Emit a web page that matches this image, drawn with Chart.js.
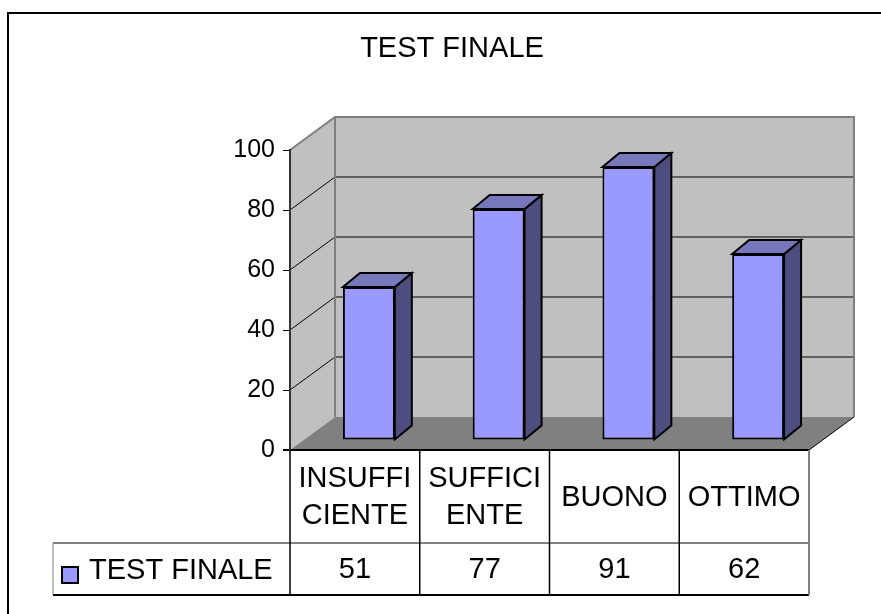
<!DOCTYPE html>
<html lang="it">
<head>
<meta charset="UTF-8">
<title>TEST FINALE</title>
<script src="https://cdn.jsdelivr.net/npm/chart.js"></script>
<style>
  html, body { margin: 0; padding: 0; background: #fff; }
  canvas { display: block; }
</style>
</head>
<body>
<canvas id="chart" width="881" height="614"></canvas>
<script>
// chart data
const categories = ['INSUFFICIENTE', 'SUFFICIENTE', 'BUONO', 'OTTIMO'];
const categoryLines = [['INSUFFI', 'CIENTE'], ['SUFFICI', 'ENTE'], ['BUONO'], ['OTTIMO']];
const seriesName = 'TEST FINALE';
const seriesValues = [51, 77, 91, 62];
const yTicks = [0, 20, 40, 60, 80, 100];

const FONT = "'Liberation Sans', Arial, sans-serif";

// 3D look
const WALL_DX = 45, WALL_DY = 33;   // depth of walls and floor
const BAR_DX = 14, BAR_DY = 10;     // columns stand a bit behind the front edge
const COL_DX = 17, COL_DY = 14;     // depth of a single column

function poly(ctx, pts, fill, stroke, lw) {
    ctx.beginPath();
    ctx.moveTo(pts[0][0], pts[0][1]);
    for (let i = 1; i < pts.length; i++) ctx.lineTo(pts[i][0], pts[i][1]);
    ctx.closePath();
    if (fill) { ctx.fillStyle = fill; ctx.fill(); }
    if (stroke) { ctx.strokeStyle = stroke; ctx.lineWidth = lw || 1; ctx.stroke(); }
}

function line(ctx, pts, color, lw) {
    ctx.beginPath();
    ctx.moveTo(pts[0][0], pts[0][1]);
    for (let i = 1; i < pts.length; i++) ctx.lineTo(pts[i][0], pts[i][1]);
    ctx.strokeStyle = color;
    ctx.lineWidth = lw;
    ctx.stroke();
}

// walls, floor and gridlines behind the columns
const box3d = {
    id: 'box3d',
    beforeDraw(chart) {
        const { ctx, chartArea: a, scales: { y } } = chart;
        const L = a.left, R = a.right, T = a.top, B = a.bottom;
        ctx.save();
        ctx.fillStyle = '#fff';
        ctx.fillRect(0, 0, chart.width, chart.height);

        // outer frame (runs off the picture on the right and bottom)
        line(ctx, [[8, chart.height + 5], [8, 13], [chart.width + 5, 13]], '#000', 2);

        poly(ctx, [[L, T], [L + WALL_DX, T - WALL_DY], [L + WALL_DX, B - WALL_DY], [L, B]], '#C0C0C0');
        poly(ctx, [[L + WALL_DX, T - WALL_DY], [R + WALL_DX, T - WALL_DY], [R + WALL_DX, B - WALL_DY], [L + WALL_DX, B - WALL_DY]], '#C0C0C0');
        poly(ctx, [[L, B], [R, B], [R + WALL_DX, B - WALL_DY], [L + WALL_DX, B - WALL_DY]], '#808080');

        for (const v of yTicks) {
            if (v === 0 || v === 100) continue;
            const py = y.getPixelForValue(v);
            line(ctx, [[L, py], [L + WALL_DX, py - WALL_DY], [R + WALL_DX, py - WALL_DY]], '#000', 1);
        }

        // wall edges
        line(ctx, [[L, T], [L + WALL_DX, T - WALL_DY], [R + WALL_DX, T - WALL_DY], [R + WALL_DX, B - WALL_DY]], '#808080', 2);
        line(ctx, [[L + WALL_DX, T - WALL_DY], [L + WALL_DX, B - WALL_DY]], '#808080', 2);
        line(ctx, [[R, B], [R + WALL_DX, B - WALL_DY]], '#000', 1);
        line(ctx, [[L - 7, B], [R, B]], '#000', 2);
        ctx.restore();
    },
    beforeDatasetsDraw(chart) {
        chart.ctx.save();
        chart.ctx.translate(BAR_DX, -BAR_DY);
    },
    afterDatasetsDraw(chart) {
        const ctx = chart.ctx;
        chart.getDatasetMeta(0).data.forEach(el => {
            const { x, y, base, width } = el.getProps(['x', 'y', 'base', 'width'], true);
            const l = x - width / 2, r = x + width / 2;
            poly(ctx, [[r, y], [r + COL_DX, y - COL_DY], [r + COL_DX, base - COL_DY], [r, base]], '#4D4D80', '#000', 2);
            poly(ctx, [[l, y], [l + COL_DX, y - COL_DY], [r + COL_DX, y - COL_DY], [r, y]], '#7777BB', '#000', 2);
        });
        ctx.restore();
    }
};

// data table under the plot
const dataTable = {
    id: 'dataTable',
    afterDraw(chart) {
        const { ctx, chartArea: a, scales: { x } } = chart;
        const cw = (a.right - a.left) / categories.length;
        const top = a.bottom, mid = top + 93, bot = mid + 52;
        const legendLeft = 53;
        ctx.save();

        line(ctx, [[legendLeft, mid], [a.right, mid]], '#808080', 2);
        line(ctx, [[legendLeft, mid], [legendLeft, bot]], '#808080', 1);
        line(ctx, [[legendLeft, bot], [a.right, bot]], '#000', 2);
        for (let i = 0; i < categories.length; i++) {
            const lx = a.left + i * cw;
            line(ctx, [[lx, top], [lx, bot]], '#000', 1.5);
        }
        line(ctx, [[a.right, top], [a.right, bot]], '#808080', 2);

        ctx.fillStyle = '#000';
        ctx.font = '29px ' + FONT;
        ctx.textAlign = 'center';
        ctx.textBaseline = 'middle';
        const lh = 37;
        categoryLines.forEach((lines, i) => {
            const cx = x.getPixelForValue(i);
            const cy = (top + mid) / 2 - (lines.length - 1) * lh / 2 + 1;
            lines.forEach((t, k) => ctx.fillText(t, cx, cy + k * lh));
            ctx.fillText(String(seriesValues[i]), cx, (mid + bot) / 2 + 1);
        });

        // legend key
        const ds = chart.data.datasets[0];
        ctx.fillStyle = ds.backgroundColor;
        ctx.fillRect(62, 567, 16, 16);
        ctx.strokeStyle = '#000';
        ctx.lineWidth = 2;
        ctx.strokeRect(62, 567, 16, 16);
        ctx.fillStyle = '#000';
        ctx.textAlign = 'left';
        ctx.fillText(ds.label, 89, (mid + bot) / 2 + 2);
        ctx.restore();
    }
};

new Chart(document.getElementById('chart'), {
    type: 'bar',
    data: {
        labels: categories,
        datasets: [{
            label: seriesName,
            data: seriesValues,
            backgroundColor: '#9999FF',
            borderColor: '#000',
            borderWidth: 2,
            borderSkipped: false,
            barPercentage: 0.4,
            categoryPercentage: 1
        }]
    },
    options: {
        responsive: false,
        devicePixelRatio: 1,
        animation: false,
        layout: { padding: { left: 95, right: 72, top: 0, bottom: 164 } },
        plugins: {
            legend: { display: false },
            tooltip: { enabled: false },
            title: {
                display: true,
                text: 'TEST FINALE',
                color: '#000',
                font: { family: FONT, size: 29, weight: 'normal' },
                padding: { top: 32, bottom: 83.2 }
            }
        },
        scales: {
            x: { display: false },
            y: {
                min: 0,
                max: 100,
                afterBuildTicks: s => { s.ticks = yTicks.map(v => ({ value: v })); },
                afterFit: s => { s.width = 195; },
                ticks: { color: '#000', padding: 8, font: { family: FONT, size: 25 } },
                grid: { drawOnChartArea: false, drawTicks: true, tickLength: 7, color: '#000' },
                border: { display: true, color: '#333', width: 2 }
            }
        }
    },
    plugins: [box3d, dataTable]
});
</script>
</body>
</html>
